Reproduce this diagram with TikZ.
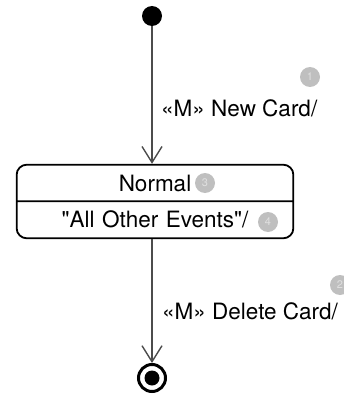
\documentclass[tikz,border=0pt]{standalone}
\usepackage{fontspec}
\setmainfont{TeX Gyre Heros}[Ligatures=TeXOff]
\usetikzlibrary{shapes.multipart,arrows.meta,positioning}

\begin{document}
\begin{tikzpicture}[
  x=1pt,y=-1pt,
  font=\fontsize{22.5}{25}\selectfont,
  pseudo/.style={circle,fill=black,inner sep=0pt,minimum size=20pt},
  final/.style={circle,draw=black,line width=3pt,inner sep=0pt,minimum size=27pt},
  state/.style={rectangle split,rectangle split parts=2,draw=black,line width=1.8pt,
    rounded corners=10pt,text width=270pt,align=center,inner ysep=9pt},
  trans/.style={draw=black!70,line width=1.4pt,-{Straight Barb[length=16pt,width=20pt,line width=1.4pt]}},
  label/.style={anchor=west,inner sep=0pt},
  badge/.style={circle,fill=black!25,text=black!12,inner sep=0pt,minimum size=20pt,
    font=\fontsize{11}{11}\selectfont},
]
\useasboundingbox (0,0) rectangle (343,396);

\node [pseudo] (init) at (152,16) {};
\node [state] (normal) at (155,201.5) {Normal\nodepart{second} "All Other Events"/};
\node [final] (done) at (152,378) {};
\node [pseudo,minimum size=15pt] (donedot) at (done) {};

\draw [trans] (init) -- (init |- normal.north);
\draw [trans] (normal.south -| init) -- (done);

\node [label] (newcard) at (161,108) {«M» New Card/};
\node [label] (delcard) at (162,311) {«M» Delete Card/};

\node [badge] (b1) at (310,77) {1};
\node [badge] (b2) at (340,285) {2};
\node [badge] (b3) at (205,183) {3};
\node [badge] (b4) at (268,222) {4};
\end{tikzpicture}
\end{document}
